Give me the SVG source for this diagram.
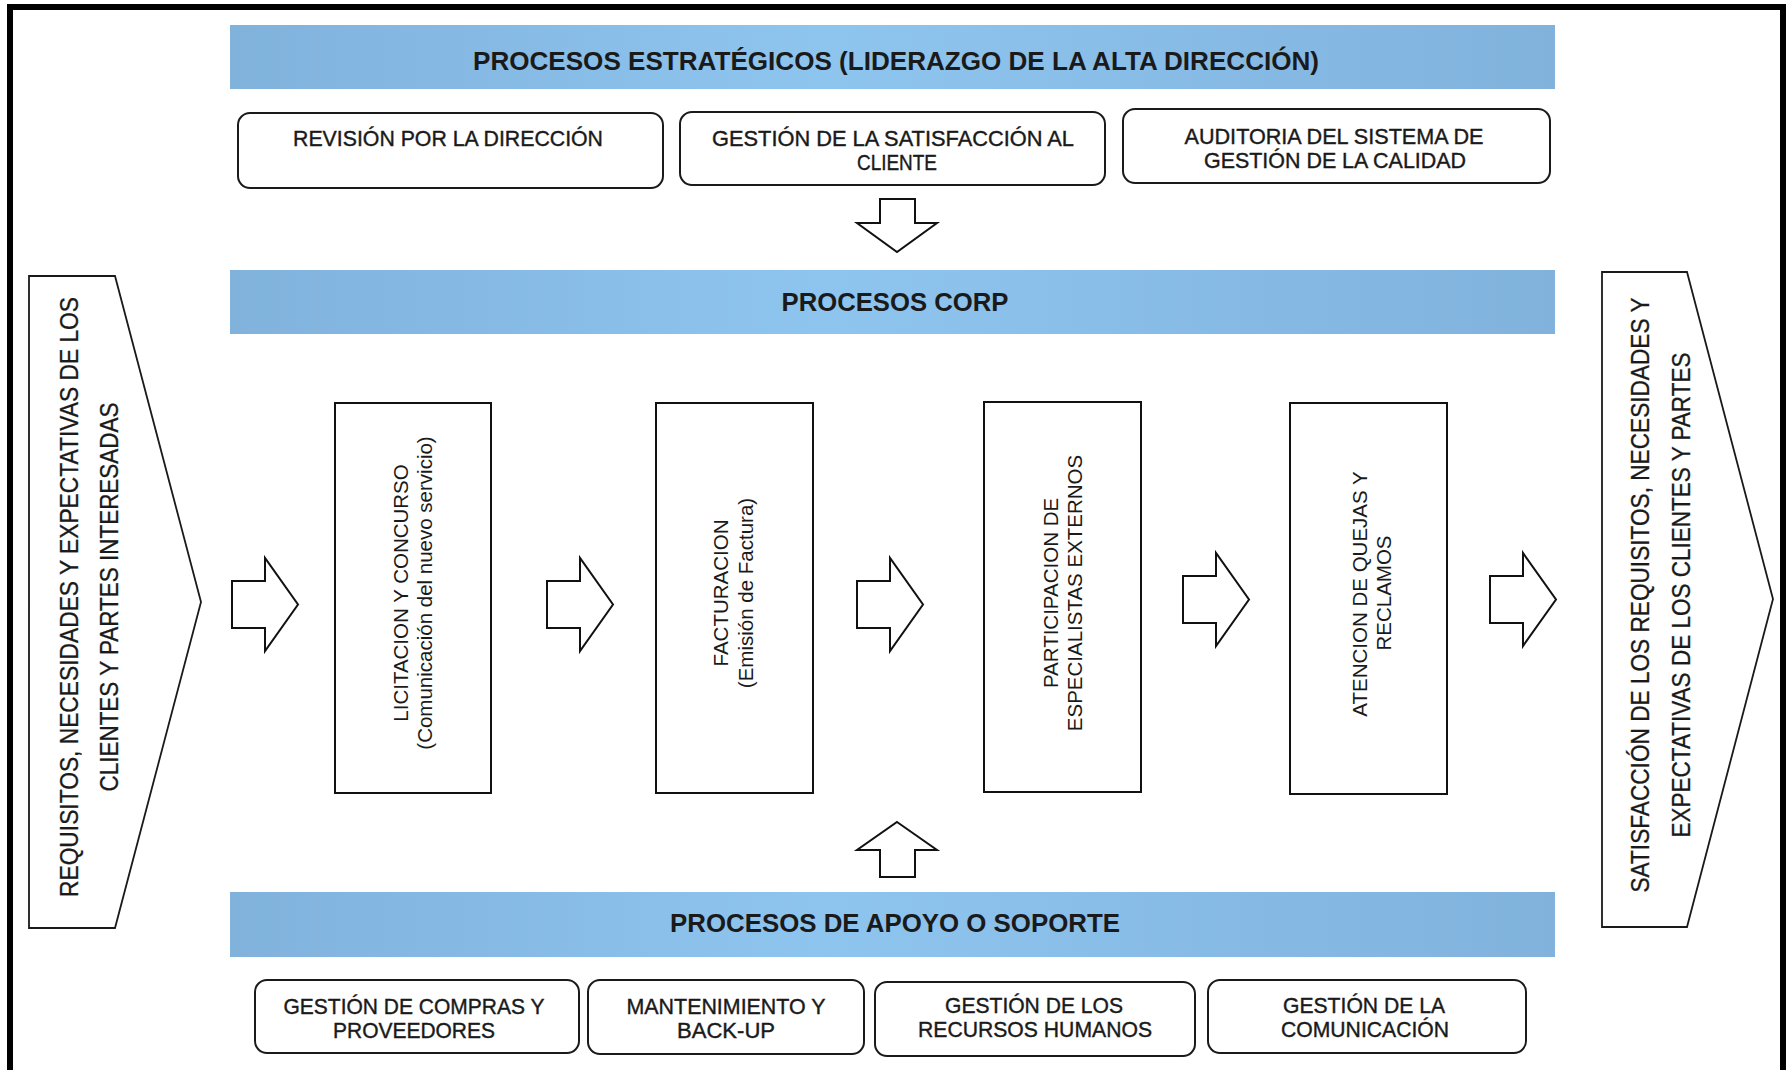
<svg xmlns="http://www.w3.org/2000/svg" width="1786" height="1070" viewBox="0 0 1786 1070">
<defs>
<linearGradient id="bar" x1="0" y1="0" x2="1" y2="0">
<stop offset="0" stop-color="#80B2DC"/>
<stop offset="0.45" stop-color="#8EC5EF"/>
<stop offset="1" stop-color="#80B2DC"/>
</linearGradient>
<style>
.bar{fill:url(#bar);}
.rbox{fill:#fff;stroke:#1a1a1a;stroke-width:2;}
.pbox{fill:#fff;stroke:#111;stroke-width:2;}
.shape{fill:#fff;stroke:#1a1a1a;stroke-width:1.8;stroke-linejoin:miter;}
.arr{fill:#fff;stroke:#111;stroke-width:2;stroke-linejoin:miter;}
.n{font-family:"Liberation Sans Narrow","Arial Narrow","Liberation Sans",Arial,sans-serif;font-size:22px;fill:#1a1a1a;stroke:#1a1a1a;stroke-width:0.4;text-anchor:middle;}
.t{font-family:"Liberation Sans Narrow","Arial Narrow","Liberation Sans",Arial,sans-serif;font-size:25px;font-weight:bold;fill:#1a1a1a;text-anchor:middle;}
.c{font-family:"Liberation Sans Narrow","Arial Narrow","Liberation Sans",Arial,sans-serif;font-size:25px;fill:#1a1a1a;stroke:#1a1a1a;stroke-width:0.3;text-anchor:middle;}
.p{font-family:"Liberation Sans",Arial,sans-serif;font-size:20.5px;fill:#1a1a1a;text-anchor:middle;}
</style>
</defs>
<rect x="0" y="0" width="1786" height="1070" fill="#fff"/>
<rect x="10" y="7" width="1773" height="1066" fill="none" stroke="#000" stroke-width="6"/>

<g id="bar-estrategicos">
<rect class="bar" x="230" y="25" width="1325" height="64"/>
<text class="t" x="896" y="70" textLength="846" lengthAdjust="spacingAndGlyphs">PROCESOS ESTRATÉGICOS (LIDERAZGO DE LA ALTA DIRECCIÓN)</text>
</g>
<g id="s1">
<rect class="rbox" x="238" y="113" width="425" height="75" rx="12"/>
<text class="n" x="448" y="146" textLength="310" lengthAdjust="spacingAndGlyphs">REVISIÓN POR LA DIRECCIÓN</text>
</g>
<g id="s2">
<rect class="rbox" x="680" y="112" width="425" height="73" rx="12"/>
<text class="n" x="893" y="146" textLength="362" lengthAdjust="spacingAndGlyphs">GESTIÓN DE LA SATISFACCIÓN AL</text>
<text class="n" x="897" y="170" textLength="80" lengthAdjust="spacingAndGlyphs">CLIENTE</text>
</g>
<g id="s3">
<rect class="rbox" x="1123" y="109" width="427" height="74" rx="12"/>
<text class="n" x="1334" y="144" textLength="299" lengthAdjust="spacingAndGlyphs">AUDITORIA DEL SISTEMA DE</text>
<text class="n" x="1335" y="168" textLength="262" lengthAdjust="spacingAndGlyphs">GESTIÓN DE LA CALIDAD</text>
</g>

<g id="bar-corp">
<rect class="bar" x="230" y="270" width="1325" height="64"/>
<text class="t" x="895" y="311" textLength="227" lengthAdjust="spacingAndGlyphs">PROCESOS CORP</text>
</g>

<g id="entrada">
<path class="shape" d="M29,276 H115 L201,602 L115,928 H29 Z"/>
<text class="c" transform="translate(78,597) rotate(-90)" textLength="600" lengthAdjust="spacingAndGlyphs">REQUISITOS, NECESIDADES Y EXPECTATIVAS DE LOS</text>
<text class="c" transform="translate(118,597) rotate(-90)" textLength="389" lengthAdjust="spacingAndGlyphs">CLIENTES Y PARTES INTERESADAS</text>
</g>
<g id="salida">
<path class="shape" d="M1602,272 H1687 L1773,599 L1687,927 H1602 Z"/>
<text class="c" transform="translate(1649,595) rotate(-90)" textLength="595" lengthAdjust="spacingAndGlyphs">SATISFACCIÓN DE LOS REQUISITOS, NECESIDADES Y</text>
<text class="c" transform="translate(1690,595) rotate(-90)" textLength="485" lengthAdjust="spacingAndGlyphs">EXPECTATIVAS DE LOS CLIENTES Y PARTES</text>
</g>

<g id="p1">
<rect class="pbox" x="335" y="403" width="156" height="390"/>
<text class="p" transform="translate(408,593) rotate(-90)">LICITACION Y CONCURSO</text>
<text class="p" transform="translate(432,593) rotate(-90)">(Comunicación del nuevo servicio)</text>
</g>
<g id="p2">
<rect class="pbox" x="656" y="403" width="157" height="390"/>
<text class="p" transform="translate(728,593) rotate(-90)">FACTURACION</text>
<text class="p" transform="translate(753,593) rotate(-90)">(Emisión de Factura)</text>
</g>
<g id="p3">
<rect class="pbox" x="984" y="402" width="157" height="390"/>
<text class="p" transform="translate(1058,593) rotate(-90)">PARTICIPACION DE</text>
<text class="p" transform="translate(1082,593) rotate(-90)">ESPECIALISTAS EXTERNOS</text>
</g>
<g id="p4">
<rect class="pbox" x="1290" y="403" width="157" height="391"/>
<text class="p" transform="translate(1367,594) rotate(-90)">ATENCION DE QUEJAS Y</text>
<text class="p" transform="translate(1391,593) rotate(-90)">RECLAMOS</text>
</g>

<g id="bar-apoyo">
<rect class="bar" x="230" y="892" width="1325" height="65"/>
<text class="t" x="895" y="932" textLength="450" lengthAdjust="spacingAndGlyphs">PROCESOS DE APOYO O SOPORTE</text>
</g>
<g id="b1">
<rect class="rbox" x="255" y="980" width="324" height="73" rx="12"/>
<text class="n" x="414" y="1014" textLength="261" lengthAdjust="spacingAndGlyphs">GESTIÓN DE COMPRAS Y</text>
<text class="n" x="414" y="1038" textLength="162" lengthAdjust="spacingAndGlyphs">PROVEEDORES</text>
</g>
<g id="b2">
<rect class="rbox" x="588" y="980" width="276" height="74" rx="12"/>
<text class="n" x="726" y="1014" textLength="199" lengthAdjust="spacingAndGlyphs">MANTENIMIENTO Y</text>
<text class="n" x="726" y="1038" textLength="98" lengthAdjust="spacingAndGlyphs">BACK-UP</text>
</g>
<g id="b3">
<rect class="rbox" x="875" y="982" width="320" height="74" rx="12"/>
<text class="n" x="1034" y="1013" textLength="178" lengthAdjust="spacingAndGlyphs">GESTIÓN DE LOS</text>
<text class="n" x="1035" y="1037" textLength="234" lengthAdjust="spacingAndGlyphs">RECURSOS HUMANOS</text>
</g>
<g id="b4">
<rect class="rbox" x="1208" y="980" width="318" height="73" rx="12"/>
<text class="n" x="1364" y="1013" textLength="162" lengthAdjust="spacingAndGlyphs">GESTIÓN DE LA</text>
<text class="n" x="1365" y="1037" textLength="168" lengthAdjust="spacingAndGlyphs">COMUNICACIÓN</text>
</g>

<g id="connectors">
<path class="arr" d="M880,199 H915 V223 H937 L897,252 L857,223 H880 Z"/>
<path class="arr" d="M897,822 L937,850 H915 V877 H880 V850 H857 Z"/>
<path class="arr" transform="translate(232,558)" d="M0,23 H33 V0 L66,46.5 L33,93 V70 H0 Z"/>
<path class="arr" transform="translate(547,558)" d="M0,23 H33 V0 L66,46.5 L33,93 V70 H0 Z"/>
<path class="arr" transform="translate(857,558)" d="M0,23 H33 V0 L66,46.5 L33,93 V70 H0 Z"/>
<path class="arr" transform="translate(1183,553)" d="M0,23 H33 V0 L66,46.5 L33,93 V70 H0 Z"/>
<path class="arr" transform="translate(1490,553)" d="M0,23 H33 V0 L66,46.5 L33,93 V70 H0 Z"/>
</g>
</svg>
